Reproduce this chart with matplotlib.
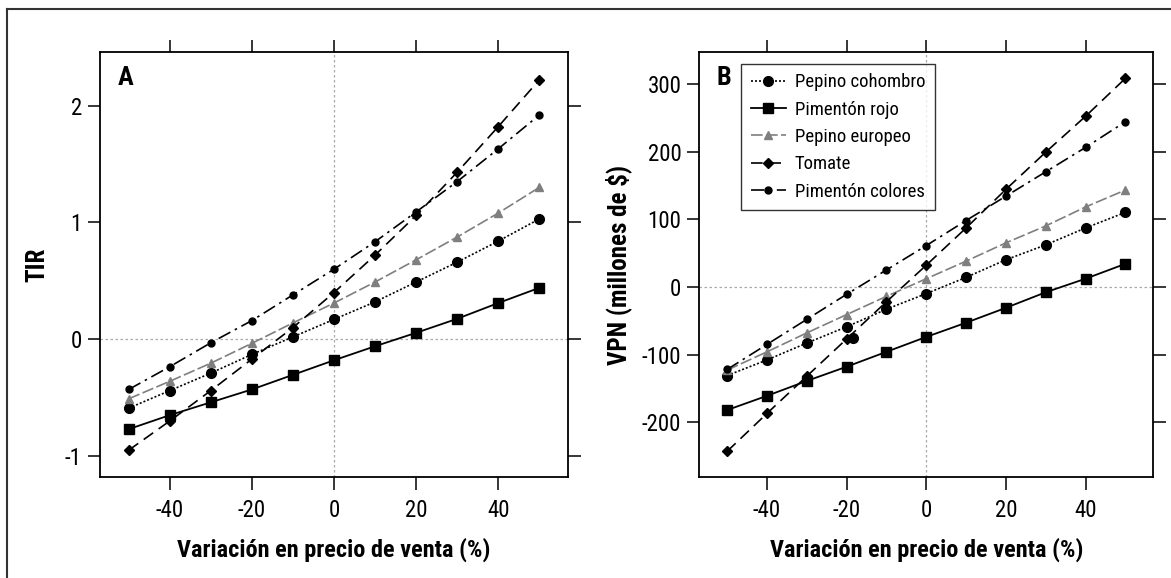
import numpy as np
import matplotlib
matplotlib.use("Agg")
import matplotlib.pyplot as plt
from matplotlib.lines import Line2D

plt.rcParams['font.family'] = ['Roboto Condensed', 'Liberation Sans Narrow', 'Liberation Sans', 'DejaVu Sans']
plt.rcParams['axes.unicode_minus'] = False

# Price variation (%)
x = [-50, -40, -30, -20, -10, 0, 10, 20, 30, 40, 50]

# Panel A: TIR
tir_cohombro = [-0.59, -0.44, -0.29, -0.13, 0.02, 0.17, 0.32, 0.49, 0.66, 0.84, 1.03]
tir_rojo = [-0.77, -0.65, -0.54, -0.43, -0.305, -0.18, -0.06, 0.055, 0.175, 0.31, 0.44]
tir_europeo = [-0.51, -0.36, -0.205, -0.035, 0.14, 0.31, 0.49, 0.68, 0.875, 1.08, 1.30]
tir_tomate = [-0.95, -0.70, -0.44, -0.17, 0.10, 0.40, 0.72, 1.06, 1.43, 1.82, 2.22]
tir_colores = [-0.43, -0.235, -0.03, 0.16, 0.38, 0.60, 0.835, 1.09, 1.35, 1.63, 1.92]

# Panel B: VPN (millones de $)
vpn_cohombro = [-131, -108, -83, -59, -33, -10, 14, 40, 62, 87, 110]
vpn_rojo = [-182, -161, -139, -118, -96, -74, -53, -31, -8, 12, 34]
vpn_europeo = [-123, -96, -68, -41, -14, 12, 38, 65, 90, 118, 143]
vpn_tomate = [-243, -187, -132, -77, -22, 32, 87, 144, 199, 252, 308]
vpn_colores = [-122, -85, -48, -11, 25, 61, 98, 134, 170, 206, 244]
# stray marker in panel B
extra_x = [-18.5]
extra_y = [-75]

series_names = ['Pepino cohombro', 'Pimentón rojo', 'Pepino europeo', 'Tomate', 'Pimentón colores']

styles = [
    dict(color='black', ls=(0, (1.2, 1.2)), lw=1.2, marker='o', ms=7),
    dict(color='black', ls='-', lw=1.3, marker='s', ms=6.5),
    dict(color='#7f7f7f', ls=(0, (7, 2)), lw=1.2, marker='^', ms=6),
    dict(color='black', ls=(0, (7, 4)), lw=1.2, marker='D', ms=5.5),
    dict(color='black', ls=(0, (8, 3, 1.5, 3)), lw=1.2, marker='o', ms=5),
]

fig = plt.figure(figsize=(11.71, 5.78), dpi=100)
axA = fig.add_axes([0.0854, 0.1747, 0.3996, 0.7353])
axB = fig.add_axes([0.5972, 0.1747, 0.3876, 0.7353])

# outer frame (left and top edges only)
fig.add_artist(Line2D([7 / 1171, 7 / 1171], [0, 1 - 9 / 578], transform=fig.transFigure,
                      color='#333333', lw=1.5))
fig.add_artist(Line2D([7 / 1171, 1], [1 - 9 / 578, 1 - 9 / 578], transform=fig.transFigure,
                      color='#333333', lw=1.5))

dataA = [tir_cohombro, tir_rojo, tir_europeo, tir_tomate, tir_colores]
dataB = [vpn_cohombro, vpn_rojo, vpn_europeo, vpn_tomate, vpn_colores]

for ax, data in [(axA, dataA), (axB, dataB)]:
    ax.axhline(0, color='#aaaaaa', ls=(0, (2, 2)), lw=0.9, zorder=0)
    ax.axvline(0, color='#aaaaaa', ls=(0, (2, 2)), lw=0.9, zorder=0)
    for name, vals, st in zip(series_names, data, styles):
        ax.plot(x, vals, label=name, color=st['color'], ls=st['ls'], lw=st['lw'],
                marker=st['marker'], ms=st['ms'], mfc=st['color'], mec=st['color'])
    ax.set_xlim(-57, 57)
    ax.set_xticks([-40, -20, 0, 20, 40])
    ax.tick_params(direction='out', length=9, width=1.1, labelsize=16.5,
                   top=True, right=True, labeltop=False, labelright=False)
    ax.tick_params(axis='x', pad=7)
    ax.tick_params(axis='y', pad=4)
    for sp in ax.spines.values():
        sp.set_linewidth(1.3)
    ax.set_xlabel('Variación en precio de venta (%)', fontsize=17.5, fontweight='bold')
    ax.xaxis.set_label_coords(0.5, -0.142)

axB.plot(extra_x, extra_y, ls='none', marker='o', ms=7, color='black')

axA.set_ylim(-1.18, 2.46)
axA.set_yticks([-1, 0, 1, 2])
axA.set_ylabel('TIR', fontsize=18, fontweight='bold')
axA.yaxis.set_label_coords(-0.108, 0.5)
axA.text(0.038, 0.968, 'A', transform=axA.transAxes, fontsize=19, fontweight='bold',
         va='top', ha='left')

axB.set_ylim(-281, 347)
axB.set_yticks([-200, -100, 0, 100, 200, 300])
axB.set_ylabel('VPN (millones de $)', fontsize=18, fontweight='bold')
axB.yaxis.set_label_coords(-0.148, 0.5)
axB.text(0.038, 0.968, 'B', transform=axB.transAxes, fontsize=19, fontweight='bold',
         va='top', ha='left')

leg = axB.legend(loc='upper left', bbox_to_anchor=(0.0925, 0.972), borderaxespad=0,
                 fontsize=13.5, handlelength=1.9, frameon=True, fancybox=False,
                 edgecolor='black', labelspacing=0.5, borderpad=0.5, handletextpad=0.45)
leg.get_frame().set_linewidth(1.0)

fig.savefig('out.png', dpi=100)
